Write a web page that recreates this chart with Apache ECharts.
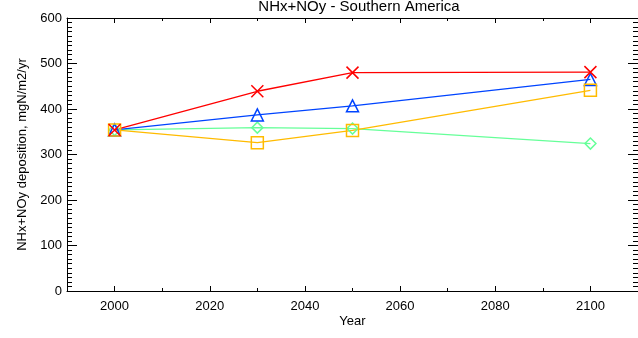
<!DOCTYPE html>
<html><head><meta charset="utf-8">
<script src="https://cdn.jsdelivr.net/npm/echarts@6/dist/echarts.min.js"></script>
<style>html,body{margin:0;padding:0;background:#fff}#c{width:638px;height:338px}</style>
</head><body><div id="c"></div>
<script>
const years = [2000, 2030, 2050, 2100];
const seriesNames = ['S1', 'S2', 'S3', 'S4'];
const greenVals = [354, 359, 357, 324];
const blueVals = [354, 387, 407, 465];
const yellowVals = [354, 326, 353, 441];
const redVals = [354, 439, 480, 481];
const xMajorTicks = [2000, 2020, 2040, 2060, 2080, 2100];
const xMinorTicks = [1990, 2010, 2030, 2050, 2070, 2090, 2110];

const font = 'Liberation Sans, Arial, Helvetica, sans-serif';
function pairs(v){ return years.map((y,i)=>[y,v[i]]); }
const xPath = 'path://M0,0L10,10M10,0L0,10';
function mk(name, vals, color, symbol, size){
  return {name, type:'line', data:pairs(vals), xAxisIndex:0, yAxisIndex:0,
    symbol, symbolSize:size, showAllSymbol:true,
    lineStyle:{color, width:1.3},
    itemStyle:{color:'rgba(0,0,0,0)', borderColor:color, borderWidth:1.5},
    emphasis:{disabled:true}, animation:false};
}
const baseX = {type:'value', min:1990, max:2110, interval:10, splitLine:{show:false}};
const chart = echarts.init(document.getElementById('c'));
chart.setOption({
  animation:false,
  title:{text:'NHx+NOy - Southern America', left:354, textAlign:'center', top:-6,
    textStyle:{fontFamily:font, fontSize:15, fontWeight:'normal', color:'#000'}},
  grid:{left:67, right:-3, top:18, bottom:47},
  xAxis:[
    Object.assign({}, baseX, {position:'bottom', name:'Year', nameLocation:'middle', nameGap:24,
      nameMoveOverlap:false,
      nameTextStyle:{fontFamily:font, fontSize:13, color:'#000'},
      axisLine:{show:true, onZero:false, lineStyle:{color:'#000', width:1}},
      axisTick:{show:true, inside:true, length:5, customValues:xMajorTicks, lineStyle:{color:'#000'}},
      axisLabel:{show:true, customValues:xMajorTicks, margin:9, fontFamily:font, fontSize:13, color:'#000',
        formatter:(v)=>String(v)}}),
    Object.assign({}, baseX, {position:'bottom',
      axisLine:{show:false, onZero:false},
      axisTick:{show:true, inside:true, length:3, customValues:xMinorTicks, lineStyle:{color:'#000'}},
      axisLabel:{show:false}}),
    Object.assign({}, baseX, {position:'top',
      axisLine:{show:true, onZero:false, lineStyle:{color:'#000', width:1}},
      axisTick:{show:true, inside:true, length:5, customValues:xMajorTicks, lineStyle:{color:'#000'}},
      axisLabel:{show:false}}),
    Object.assign({}, baseX, {position:'top',
      axisLine:{show:false, onZero:false},
      axisTick:{show:true, inside:true, length:3, customValues:xMinorTicks, lineStyle:{color:'#000'}},
      axisLabel:{show:false}})
  ],
  yAxis:[
    {type:'value', min:0, max:600, interval:100, position:'left',
      name:'NHx+NOy deposition, mgN/m2/yr', nameLocation:'middle', nameGap:38, nameRotate:90,
      nameTextStyle:{fontFamily:font, fontSize:13, color:'#000'},
      axisLine:{show:true, lineStyle:{color:'#000', width:1}},
      axisTick:{show:true, inside:true, length:10, lineStyle:{color:'#000'}},
      minorTick:{show:true, splitNumber:10, length:5, lineStyle:{color:'#000'}},
      axisLabel:{margin:5, fontFamily:font, fontSize:13, color:'#000'},
      splitLine:{show:false}},
    {type:'value', min:0, max:600, interval:100, position:'right',
      axisLine:{show:true, lineStyle:{color:'#000', width:1}},
      axisTick:{show:true, inside:true, length:10, lineStyle:{color:'#000'}},
      minorTick:{show:true, splitNumber:10, length:5, lineStyle:{color:'#000'}},
      axisLabel:{show:false}, splitLine:{show:false}}
  ],
  series:[
    mk(seriesNames[0], greenVals, '#66ff99', 'diamond', 11),
    mk(seriesNames[1], blueVals, '#0044ff', 'triangle', 12),
    mk(seriesNames[2], yellowVals, '#ffbb00', 'rect', 12),
    mk(seriesNames[3], redVals, '#ff0000', xPath, 12)
  ]
});
</script></body></html>
